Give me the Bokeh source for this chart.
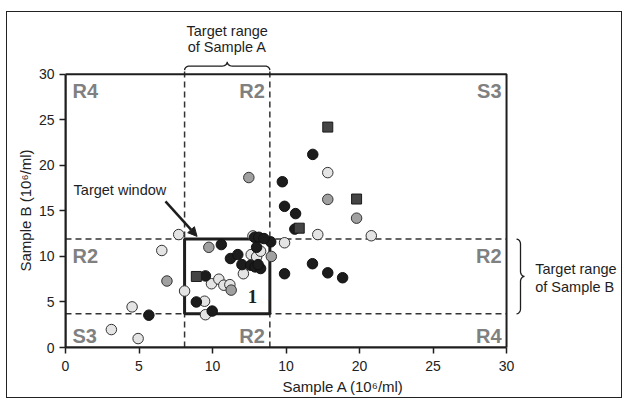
import numpy as np
from bokeh.plotting import figure
from bokeh.models import Label, Arrow, NormalHead, Range1d, FixedTicker, Title
from bokeh.embed import file_html
from bokeh.resources import INLINE

# ---------------- data ----------------
black_x = [14.75, 16.82, 14.9, 15.65, 15.6, 13.96, 16.8, 14.9, 17.84, 18.85, 10.6, 12.86, 13.15, 13.5,
           13.0, 11.22, 11.72, 12.0, 12.6, 12.9, 13.27, 13.1, 9.52, 8.9, 9.98, 5.67]
black_y = [18.2, 21.2, 15.5, 14.7, 13.0, 11.6, 9.2, 8.1, 8.2, 7.66, 11.3, 12.1, 12.1, 11.96,
           11.0, 9.77, 10.2, 9.1, 9.03, 8.85, 8.67, 9.1, 7.86, 5.0, 4.0, 3.55]
square_x = [17.84, 19.8, 15.9, 8.9]
square_y = [24.2, 16.3, 13.1, 7.8]
gray_x = [17.84, 19.8, 12.47, 9.75, 14.0, 6.9, 11.27]
gray_y = [16.26, 14.2, 18.66, 11.0, 10.0, 7.3, 6.3]
light_x = [17.84, 17.16, 20.8, 14.9, 7.7, 12.75, 12.63, 13.0, 13.27, 12.1, 9.93, 10.43, 10.77, 11.18,
           8.1, 9.46, 9.52, 6.55, 4.53, 3.12, 4.94]
light_y = [19.2, 12.4, 12.27, 11.5, 12.4, 12.25, 10.2, 9.95, 10.57, 8.1, 7.0, 7.5, 6.84, 6.9,
           6.2, 5.08, 3.6, 10.65, 4.46, 1.97, 0.98]

target_a = [8.1, 13.9]   # target range of Sample A
target_b = [3.7, 11.9]   # target range of Sample B

axis_max = 30
x_ticks = [0, 5, 10, 15, 20, 25, 30]
x_tick_labels = ["0", "5", "10", "10", "20", "25", "30"]
y_ticks = [0, 5, 10, 15, 20, 25, 30]

region_top = ["R4", "R2", "S3"]
region_mid = ["R2", "R2"]
region_bot = ["S3", "R2", "R4"]

FONT = "Liberation Sans"
DARK = "#1e1e1e"
GRAYTXT = "#808080"
TXT = "14.5px"

# frame extends beyond the 0-30 axes box so that side annotations are drawn inside it
p = figure(frame_width=556, frame_height=335, x_range=Range1d(0, 37.82), y_range=Range1d(0, 36.78),
           output_backend="svg", toolbar_location=None,
           min_border_left=58, min_border_right=0, min_border_top=0, min_border_bottom=50,
           background_fill_color="white", border_fill_color="white",
           styles={"border": "1px solid #222", "margin": "11px 0 0 6px"})
p.grid.visible = False
p.outline_line_color = None

for ax in (p.xaxis[0], p.yaxis[0]):
    ax.bounds = (0, axis_max)
    ax.axis_line_width = 2
    ax.axis_line_color = DARK
    ax.major_tick_line_color = DARK
    ax.major_tick_line_width = 1.5
    ax.major_tick_out = 6
    ax.major_tick_in = 0
    ax.minor_tick_line_color = None
    ax.major_label_text_font = FONT
    ax.major_label_text_font_size = "14px"
    ax.major_label_text_color = "#222"

p.xaxis.major_label_standoff = 7
p.yaxis.major_label_standoff = 5
p.xaxis.ticker = FixedTicker(ticks=x_ticks)
p.xaxis.major_label_overrides = {t: l for t, l in zip(x_ticks, x_tick_labels)}
p.yaxis.ticker = FixedTicker(ticks=y_ticks)

# axis titles, centred on the 0-30 box (frame is wider/taller than the box)
xt = Title(text="Sample A (10\u2076/ml)", align="center", offset=-58, standoff=4,
           text_font=FONT, text_font_size="15px", text_font_style="normal", text_color="#222")
p.add_layout(xt, "below")
yt = Title(text="Sample B (10\u2076/ml)", align="left", offset=76, standoff=3,
           text_font=FONT, text_font_size="15px", text_font_style="normal", text_color="#222")
p.add_layout(yt, "left")

# dashed lines of target ranges
p.segment(x0=target_a, y0=[0, 0], x1=target_a, y1=[30.45, 30.45],
          line_color="#333", line_width=1.5, line_dash="6 4")
p.segment(x0=[0, 0], y0=target_b, x1=[axis_max, axis_max], y1=target_b,
          line_color="#333", line_width=1.5, line_dash="6 4")

# axes box
p.quad(left=[0], right=[axis_max], bottom=[0], top=[axis_max], fill_color=None,
       line_color=DARK, line_width=2)

# target window
p.quad(left=[target_a[0]], right=[target_a[1]], bottom=[target_b[0]], top=[target_b[1]],
       fill_color=None, line_color=DARK, line_width=3)

# points
p.scatter(light_x, light_y, size=10.5, marker="circle", fill_color="#e4e4e4", line_color="#333", line_width=1)
p.scatter(gray_x, gray_y, size=10.5, marker="circle", fill_color="#a0a0a0", line_color="#333", line_width=1)
p.scatter(black_x, black_y, size=10.5, marker="circle", fill_color="#1c1c1c", line_color="#111", line_width=1)
p.scatter(square_x, square_y, size=10, marker="square", fill_color="#454545", line_color="#1a1a1a", line_width=1)

# region labels
def reg(text, x, y, align, xoff):
    p.add_layout(Label(x=x, y=y, text=text, text_align=align, text_baseline="middle", x_offset=xoff,
                       text_font=FONT, text_font_size="20px", text_font_style="bold",
                       text_color=GRAYTXT))

xs_pos = [(0, "left", 7), (target_a[1], "right", -5), (axis_max, "right", -5)]
for t, (x, a, o) in zip(region_top, xs_pos):
    reg(t, x, 28.2, a, o)
reg(region_mid[0], 0, 10.1, "left", 7)
reg(region_mid[1], axis_max, 10.1, "right", -5)
for t, (x, a, o) in zip(region_bot, xs_pos):
    reg(t, x, 1.25, a, o)

p.add_layout(Label(x=12.72, y=5.63, text="1", text_align="center", text_baseline="middle",
                   text_font="Liberation Serif", text_font_size="19px", text_font_style="bold",
                   text_color=DARK))

# target window annotation
p.add_layout(Label(x=0.55, y=17.3, text="Target window", text_align="left", text_baseline="middle",
                   text_font=FONT, text_font_size=TXT, text_color=DARK))
p.add_layout(Arrow(end=NormalHead(size=9, fill_color=DARK, line_color=DARK),
                   x_start=6.8, y_start=16.05, x_end=8.95, y_end=12.2,
                   line_width=2.5, line_color=DARK))

# braces
def brace(a, b, tip, mid, top, r):
    m = (a + b) / 2.0
    t = np.linspace(0, np.pi / 2, 8)
    u = list(a + r - r * np.cos(t))
    v = list(tip + (mid - tip) * np.sin(t))
    u += list(m - r + r * np.sin(t))
    v += list(top - (top - mid) * np.cos(t))
    uu = u + [2 * m - q for q in u[::-1]]
    vv = v + v[::-1]
    return uu, vv

bu, bv = brace(target_a[0], target_a[1], 30.45, 30.9, 31.35, 0.34)
p.line(bu, bv, line_color=DARK, line_width=1.3)
bu, bv = brace(target_b[0], target_b[1], 30.68, 30.95, 31.22, 0.55)
p.line(bv, bu, line_color=DARK, line_width=1.3)

mid_a = sum(target_a) / 2
for txt, yy in [("Target range", 34.7), ("of Sample A", 32.95)]:
    p.add_layout(Label(x=mid_a, y=yy, text=txt, text_align="center", text_baseline="middle",
                       text_font=FONT, text_font_size=TXT, text_color=DARK))
for txt, yy in [("Target range", 8.6), ("of Sample B", 6.65)]:
    p.add_layout(Label(x=31.95, y=yy, text=txt, text_align="left", text_baseline="middle",
                       text_font=FONT, text_font_size=TXT, text_color=DARK))

open("out.html", "w").write(file_html(p, INLINE))
